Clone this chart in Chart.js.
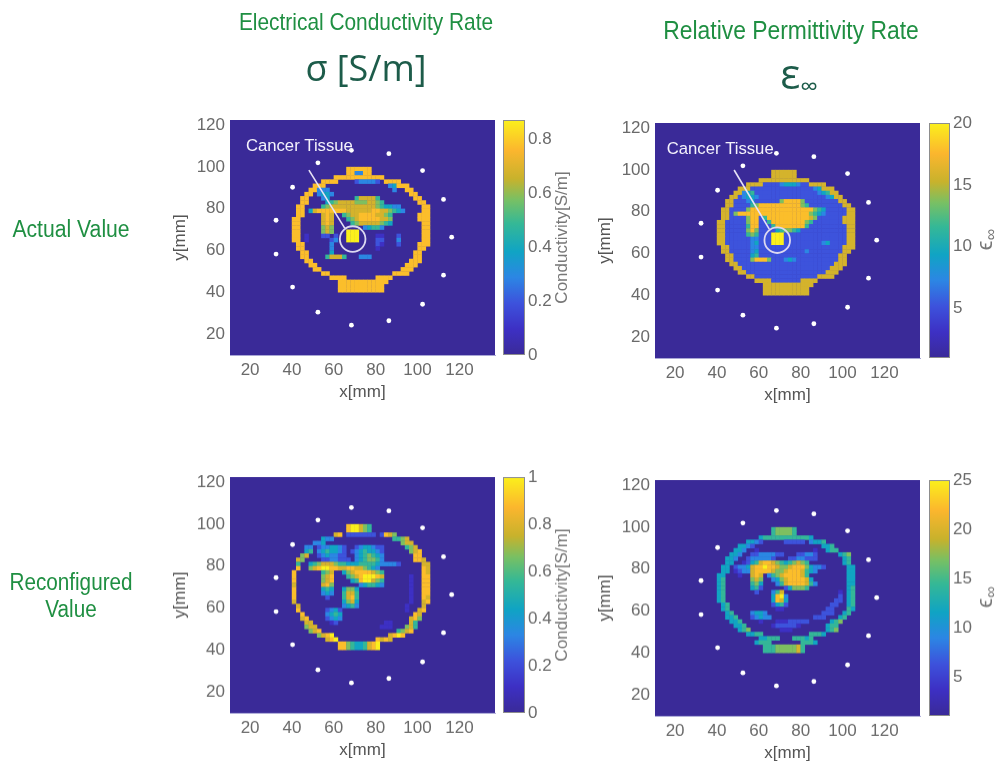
<!DOCTYPE html>
<html><head><meta charset="utf-8">
<script src="https://cdn.jsdelivr.net/npm/chart.js@4"></script>
<style>
html,body{margin:0;padding:0;background:#fff;width:1001px;height:763px;overflow:hidden}
canvas{position:absolute;filter:blur(.7px)}
.t{position:absolute;white-space:nowrap;line-height:1;filter:blur(.3px);transform-origin:center}
.g{font-family:"Liberation Sans",sans-serif;color:#1f8f42}
.s{font-family:"Open Sans",sans-serif;color:#1d5c4a}
</style></head><body>
<div class="t g" style="left:366px;top:10px;font-size:24px;transform:translateX(-50%) scaleX(.87)">Electrical Conductivity Rate</div>
<div class="t g" style="left:791px;top:17px;font-size:26px;transform:translateX(-50%) scaleX(.88)">Relative Permittivity Rate</div>
<div class="t s" style="left:366px;top:50px;font-size:36px;transform:translateX(-50%)">σ [S/m]</div>
<div class="t s" style="left:799px;top:52px;font-size:42px;transform:translateX(-50%)">ε<span style="font-size:25px;position:relative;top:6px">∞</span></div>
<div class="t g" style="left:71px;top:218px;font-size:23px;transform:translateX(-50%) scaleX(.92)">Actual Value</div>
<div class="t g" style="left:71px;top:571px;font-size:23px;transform:translateX(-50%) scaleX(.9)">Reconfigured</div>
<div class="t g" style="left:71px;top:598px;font-size:23px;transform:translateX(-50%) scaleX(.9)">Value</div>
<script>
const xTicks=[20,40,60,80,100,120];
const yTicks=[20,40,60,80,100,120];
const cellColumnX0=41, cellRowY0=101, cellStep=2;
const sensorX=[68.4,86.3,102.4,112.4,116.3,112.4,102.4,86.3,68.4,52.4,40.3,32.4,32.4,40.3,52.4];
const sensorY=[24.3,26.4,34.3,48.2,66.4,84.5,98.3,106.4,108,102,90.3,74.5,58.3,42.5,30.5];
const sigmaActualRows=[
"..................................",
".............888888...............",
".............883388...............",
"..........888888888888............",
".......8888....233332.8888........",
".....888...............34888......",
"....88333...............3..88.....",
"...88.3443..................88....",
"..88...34......577775........88...",
"..88....45677776667765........88..",
".88....5677777777777654433.....88.",
".88.47888888877777788776543....88.",
".88....787..567788887765......888.",
"88.....787...56788888776......888.",
"88.....787....5677777654.......88.",
"88.....676.......34553.........88.",
"88.....676...999...............88.",
"88.1...22.2..999....11...2.....88.",
"88.1.....23..999....22...3.....88.",
".88......3..........21...2....888.",
".88......3..........1.........88..",
"..88.....4...................88...",
"..88....57775...333..........88...",
"...88.......................888...",
"....88.....................888....",
".....88...................888.....",
".......88...............8888......",
".........8888.......8888..........",
"...........888888888888...........",
"...........88888888888............",
"...........88888888888............"];
const epsActualRows=[
"..................................",
".............777777...............",
".............777777...............",
"..........777777777777............",
".......7777222234443227777........",
".....77722222222222222234777......",
"....7734522222222222222234577.....",
"...772344322222222222222223477....",
"..77222342222226888862222222277...",
"..772222568888888888652222222277..",
".77222268888888888888886542222277.",
".77268888888888888888865432222277.",
".77222268825888888888876222222777.",
"772222268822588888888652222222777.",
"772222258822258888888522222222277.",
"772222268622224566542222222222277.",
"772222256522299922222222222222277.",
"772222223322299922222222222222277.",
"772222223422299922222222234222277.",
".77222223322222222222222222222777.",
".7722222342222222222232222222277..",
"..77222245222222222222222222277...",
"..77222268886222343222222222277...",
"...7722222222222222222222222777...",
"....77222222222222222222222777....",
".....772222222222222222222777.....",
".......772222222222222227777......",
".........777722222227777..........",
"...........777777777777...........",
"...........77777777777............",
"...........77777777777............"];
const sigmaReconRows=[
"..................................",
".............899765...............",
".............899765...............",
"..........78.2222222.2876.........",
".......433..............5567......",
".....334..................677.....",
"...33.2334432..2344322.....567....",
"...45.3454432.23454432......678...",
"..67..2343322..3456543.......88...",
".76....2233222.3456653.......887..",
".5..4567776554445555433332.....77.",
".8..67899887788776543..........87.",
"8......567..4678888765.........87.",
"8......678...567899987......1..88.",
"8......678....45899765......1..88.",
"7......786......345543......1..88.",
"8......454..4664............1..88.",
"8......343..5775............1..88.",
"8.......2...5785............1..87.",
"7...........4674............1..78.",
".7..........3453...........1...7..",
".8......2342...............1..78..",
"..8.....3454.................87...",
"..78....2343................786...",
"...77....12...........11....75....",
"...677...............111...675....",
"....678..................5678.....",
"......6789.............7898.......",
"........789.........8787..........",
"...........8865445789.............",
"...........8865445789............."];
const epsReconRows=[
"..................................",
".............566665...............",
".............566665...............",
"..........4555555555554...........",
".......4432.....22222.3445........",
".....4432................445......",
"....443..1.............1..455.....",
"...443..22333322...22332.....456..",
"..443..2333332...2233222......45..",
"..44..1245788765456765........45..",
".44.2334788988766788864332.....44.",
".44.12337888876678887543.......44.",
"44...1..787.3567888875.........44.",
"45......676..3467888874........44.",
"45......564...3578888753.......44.",
"45......452.....246665.........45.",
"45.......2...357.............1.45.",
"45...........4893............2.45.",
"45...........4874...........22.45.",
".45..........2452..........22..45.",
".45...........11..........22...54.",
"..45....3443.............222..45..",
"..445...23433..........222...45...",
"...445....1...11122222.....456....",
"....445......1222221......455.....",
".....456.......111........456.....",
".......4455...........5554........",
"..........44555...55545...........",
".........4555.......5554..........",
"...........5556666675.............",
"...........5556666675............."];
const colorStops=[[0,"#3a2a98"],[.11,"#3d30c4"],[.22,"#3d52dc"],[.33,"#2c86e4"],[.44,"#10a4c4"],[.56,"#35b896"],[.66,"#78c064"],[.75,"#c8b22c"],[.87,"#fbb62e"],[1,"#fbf01c"]];
const sigmaTicksA=[0,.2,.4,.6,.8], sigmaTicksR=[0,.2,.4,.6,.8,1], epsTicksA=[5,10,15,20], epsTicksR=[5,10,15,20,25];
const cancerLineA=[[48.1,98.5],[65.2,70.7]], cancerCircleA=[69,65.5], cancerLabelA=[18,110];
const cancerLineB=[[48.2,100],[65,71.7]], cancerCircleB=[68.8,66.4], cancerLabelB=[16,110];

function hex(c){return [1,3,5].map(i=>parseInt(c.substr(i,2),16));}
function cmap(t){t=Math.max(0,Math.min(1,t));for(let i=1;i<colorStops.length;i++){if(t<=colorStops[i][0]){const a=colorStops[i-1],b=colorStops[i],f=(t-a[0])/(b[0]-a[0]),A=hex(a[1]),B=hex(b[1]);return `rgb(${A.map((v,k)=>Math.round(v+(B[k]-v)*f)).join(",")})`;}}return colorStops[colorStops.length-1][1];}
function cells(rows,min,max){const o=[];rows.forEach((r,j)=>{[...r].forEach((c,i)=>{if(c!=="."){o.push({x:cellColumnX0+i*cellStep,y:cellRowY0-j*cellStep,v:min+(+c/9)*(max-min),t:+c/9});}});});return o;}
function noPad(s){s.paddingTop=0;s.paddingBottom=0;s.paddingLeft=0;s.paddingRight=0;}
function heat(cfg){
 const cv=document.createElement("canvas");const L=60,B=48,T=10,R=8;
 const W=cfg.w+L+R,H=cfg.h+T+B;
 cv.width=W;cv.height=H;cv.style.left=(cfg.l-L)+"px";cv.style.top=(cfg.t-T)+"px";cv.style.width=W+"px";cv.style.height=H+"px";
 document.body.appendChild(cv);
 const ds=[];
 if(cfg.line){
  ds.push({data:cfg.line.map(p=>({x:p[0],y:p[1]})),showLine:true,borderColor:"#e6e2f6",borderWidth:1.6,pointRadius:0,order:1});
  ds.push({data:[{x:cfg.circle[0],y:cfg.circle[1]}],pointRadius:12.8,pointBackgroundColor:"rgba(0,0,0,0)",pointBorderColor:"#dcd8f0",pointBorderWidth:1.8,order:1});
 }
 ds.push({data:sensorX.map((x,i)=>({x,y:sensorY[i]})),pointRadius:2.4,pointBackgroundColor:"#fff",pointBorderWidth:0,order:2});
 const cd=cells(cfg.rows,cfg.min,cfg.max);
 ds.push({data:cd,pointStyle:"rect",pointRadius:3.2,pointBorderWidth:0,pointBackgroundColor:cd.map(p=>cmap(p.t)),order:3});
 const axis=(ticks,title,isY)=>({type:"linear",min:isY?10:10.4,max:isY?122.5:137,grid:{display:false,drawTicks:false},
  border:{color:"#a9a6d6",width:1},
  afterBuildTicks:s=>{s.ticks=ticks.map(v=>({value:v}));},
  afterFit:s=>{if(isY)s.width=L;else s.height=B;noPad(s);},
  ticks:{autoSkip:false,maxRotation:0,color:"#6a6a6a",padding:5,font:{family:"Liberation Sans",size:17}},
  title:{display:true,text:title,color:"#555",padding:0,font:{family:"Liberation Sans",size:17}}});
 new Chart(cv,{type:"scatter",data:{datasets:ds},options:{responsive:false,animation:false,events:[],
  layout:{autoPadding:false,padding:{top:T,right:R,left:0,bottom:0}},
  plugins:{legend:{display:false},tooltip:{enabled:false}},
  scales:{x:axis(xTicks,"x[mm]",false),y:axis(yTicks,"y[mm]",true)}},
  plugins:[{id:"bg",beforeDatasetsDraw(c){const a=c.chartArea;c.ctx.fillStyle=cmap(0);c.ctx.fillRect(a.left,a.top,a.right-a.left,a.bottom-a.top);},
   afterDraw(c){if(!cfg.label)return;const g=c.ctx;g.save();g.fillStyle="#f4f2fc";g.font='16.7px "Liberation Sans"';g.textAlign="left";g.textBaseline="middle";
    g.fillText("Cancer Tissue",c.scales.x.getPixelForValue(cfg.label[0]),c.scales.y.getPixelForValue(cfg.label[1]));g.restore();}}]});
}
function bar(cfg){
 const cv=document.createElement("canvas");const T=10,B=12,R=76;
 const W=cfg.w+R,H=cfg.h+T+B;
 cv.width=W;cv.height=H;cv.style.left=cfg.l+"px";cv.style.top=(cfg.t-T)+"px";cv.style.width=W+"px";cv.style.height=H+"px";
 document.body.appendChild(cv);
 new Chart(cv,{type:"bar",data:{labels:["scale"],datasets:[{data:[[cfg.min,cfg.max]],barPercentage:1,categoryPercentage:1,borderWidth:0,
   backgroundColor:ctx=>{const a=ctx.chart.chartArea;if(!a)return cmap(0);const g=ctx.chart.ctx.createLinearGradient(0,a.bottom,0,a.top);colorStops.forEach(s=>g.addColorStop(s[0],s[1]));return g;}}]},
  options:{responsive:false,animation:false,events:[],layout:{autoPadding:false,padding:{top:T,bottom:B,left:0,right:0}},
  plugins:{legend:{display:false},tooltip:{enabled:false}},
  scales:{x:{display:false},y:{position:"right",min:cfg.min,max:cfg.max,grid:{display:false,drawTicks:false},border:{display:false},
   afterBuildTicks:s=>{s.ticks=cfg.ticks.map(v=>({value:v}));},afterFit:s=>{s.width=R;noPad(s);},
   ticks:{autoSkip:false,color:"#6a6a6a",padding:3,font:{family:"Liberation Sans",size:17},callback:v=>String(v)}}}},
  plugins:[{id:"ttl",afterDraw(c){const g=c.ctx,a=c.chartArea;g.save();g.strokeStyle="#8d8d8d";g.lineWidth=1;g.strokeRect(a.left+.5,a.top+.5,a.right-a.left-1,a.bottom-a.top-1);
    g.translate(cfg.titleX-cfg.l,(a.top+a.bottom)/2);g.rotate(-Math.PI/2);g.fillStyle="#777";g.textAlign="center";g.textBaseline="middle";
    if(cfg.title==="eps"){g.font='22px "Liberation Sans"';g.fillText("ϵ",-5,-2);g.font='16px "Liberation Sans"';g.fillText("∞",6,4);}
    else{g.font='17px "Liberation Sans"';g.fillText(cfg.title,0,0);}
    g.restore();}}]});
}
heat({l:229.5,t:120,w:265,h:235,rows:sigmaActualRows,min:0,max:.87,line:cancerLineA,circle:cancerCircleA,label:cancerLabelA});
heat({l:655,t:122.5,w:265,h:235.5,rows:epsActualRows,min:1,max:20,line:cancerLineB,circle:cancerCircleB,label:cancerLabelB});
heat({l:229.5,t:477,w:265,h:235.5,rows:sigmaReconRows,min:0,max:1});
heat({l:655,t:480,w:265,h:235.5,rows:epsReconRows,min:1,max:25});
bar({l:503,t:120,w:22,h:235,min:0,max:.87,ticks:sigmaTicksA,title:"Conductivity[S/m]",titleX:562});
bar({l:929,t:122.5,w:21,h:235.5,min:1,max:20,ticks:epsTicksA,title:"eps",titleX:988});
bar({l:503,t:477,w:22,h:235.5,min:0,max:1,ticks:sigmaTicksR,title:"Conductivity[S/m]",titleX:562});
bar({l:929,t:480,w:21,h:235.5,min:1,max:25,ticks:epsTicksR,title:"eps",titleX:988});
</script>
</body></html>
